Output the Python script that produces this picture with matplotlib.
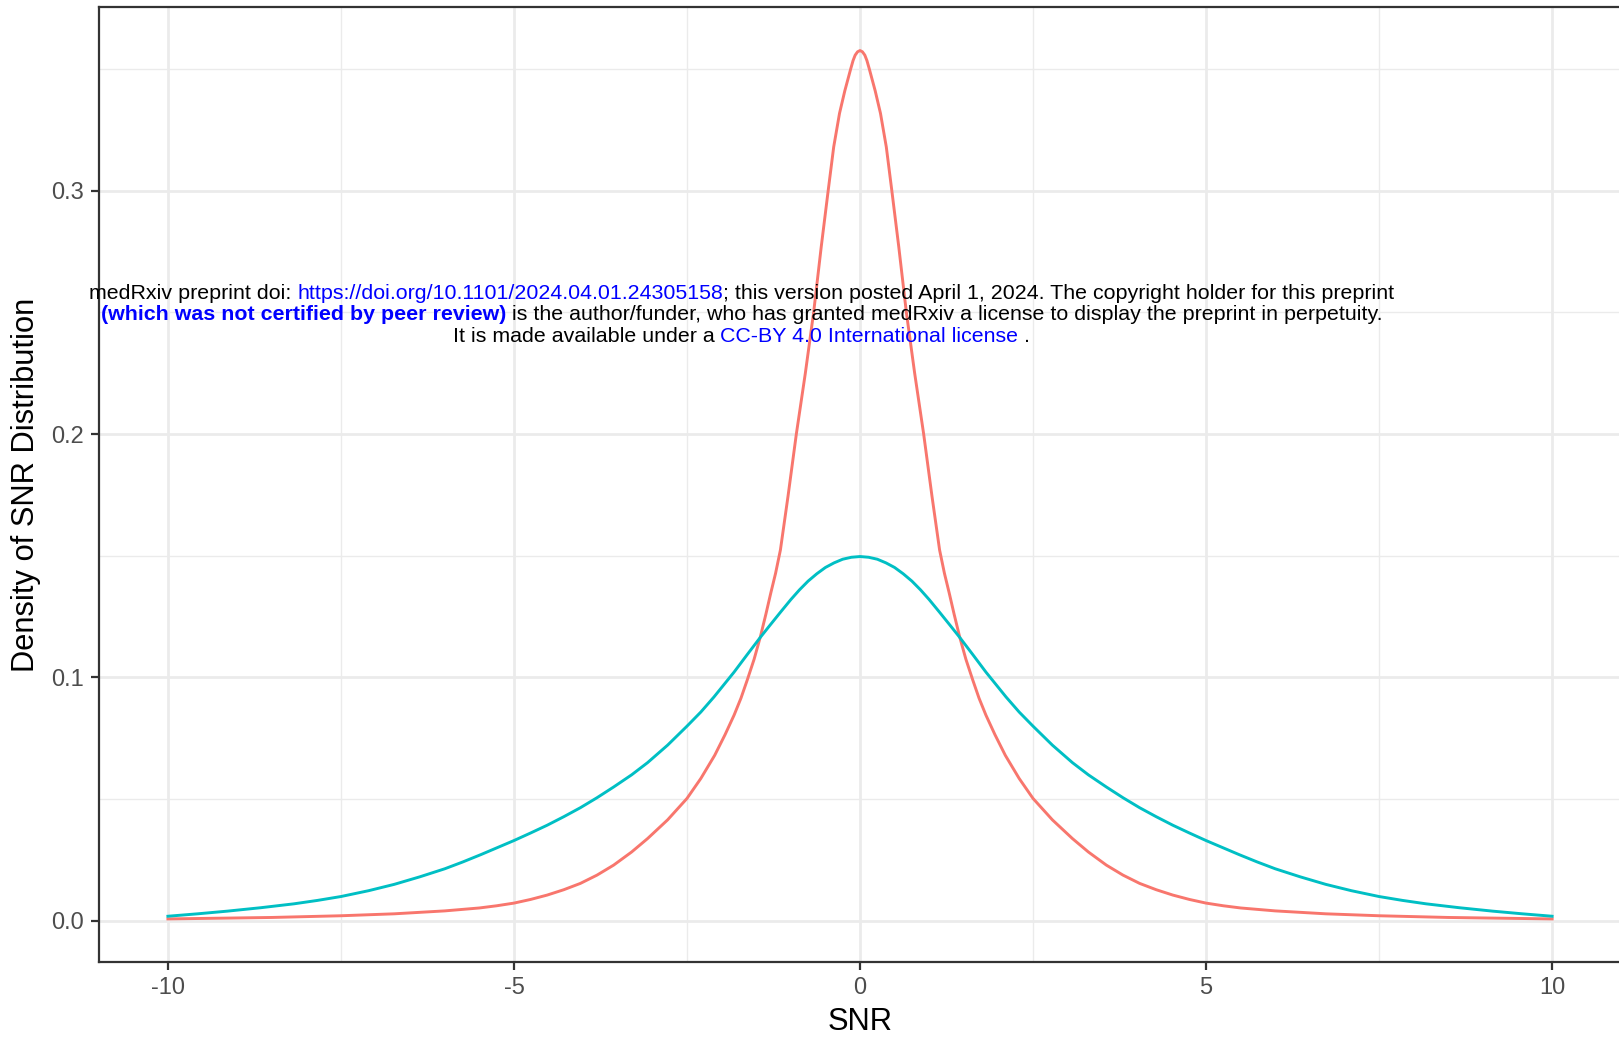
import matplotlib
matplotlib.use("Agg")
import matplotlib.pyplot as plt

# --- data ----------------------------------------------------------------
red_snr = [-10, -8.5, -7.5, -6.73, -6.0, -5.5, -5.25, -5.0, -4.76, -4.52,
           -4.28, -4.04, -3.8, -3.56, -3.3, -3.07, -2.78, -2.5, -2.3, -2.1,
           -1.95, -1.82, -1.72, -1.63, -1.53, -1.44, -1.36, -1.29, -1.22,
           -1.15, -1.04, -0.92, -0.79, -0.67, -0.56, -0.46, -0.38, -0.296,
           -0.22, -0.135, -0.1, -0.07, -0.035, 0.0,
           0.035, 0.07, 0.1, 0.135, 0.22, 0.296, 0.38, 0.46, 0.56, 0.67, 0.79,
           0.92, 1.04, 1.15, 1.22, 1.29, 1.36, 1.44, 1.53, 1.63, 1.72, 1.82,
           1.95, 2.1, 2.3, 2.5, 2.78, 3.07, 3.3, 3.56, 3.8, 4.04, 4.28, 4.52,
           4.76, 5.0, 5.25, 5.5, 6.0, 6.73, 7.5, 8.5, 10]
red_dens = [0.0008, 0.0014, 0.0021, 0.0029, 0.0041, 0.0053, 0.0062, 0.0073,
            0.0088, 0.0106, 0.0128, 0.0154, 0.0188, 0.0229, 0.0283, 0.0338,
            0.0415, 0.0503, 0.0585, 0.0680, 0.0765, 0.0845, 0.0915, 0.0989,
            0.1075, 0.1167, 0.1260, 0.1346, 0.1428, 0.1524, 0.1745, 0.200,
            0.225, 0.250, 0.277, 0.300, 0.318, 0.3318, 0.3410, 0.3500, 0.3535,
            0.3557, 0.3571, 0.3576,
            0.3571, 0.3557, 0.3535, 0.3500, 0.3410, 0.3318, 0.318, 0.300,
            0.277, 0.250, 0.225, 0.200, 0.1745, 0.1524, 0.1428, 0.1346,
            0.1260, 0.1167, 0.1075, 0.0989, 0.0915, 0.0845, 0.0765, 0.0680,
            0.0585, 0.0503, 0.0415, 0.0338, 0.0283, 0.0229, 0.0188, 0.0154,
            0.0128, 0.0106, 0.0088, 0.0073, 0.0062, 0.0053, 0.0041, 0.0029,
            0.0021, 0.0014, 0.0008]

teal_snr = [-10, -9.57, -9.14, -8.66, -8.18, -7.84, -7.5, -7.1, -6.73, -6.36,
            -6.0, -5.74, -5.48, -5.24, -5.0, -4.76, -4.52, -4.28, -4.04, -3.8,
            -3.56, -3.3, -3.07, -2.78, -2.5, -2.3, -2.11, -1.82, -1.63, -1.44,
            -1.3, -1.15, -1.0, -0.875, -0.75, -0.625, -0.5, -0.375, -0.25,
            -0.125, 0.0,
            0.125, 0.25, 0.375, 0.5, 0.625, 0.75, 0.875, 1.0, 1.15, 1.3, 1.44,
            1.63, 1.82, 2.11, 2.3, 2.5, 2.78, 3.07, 3.3, 3.56, 3.8, 4.04, 4.28,
            4.52, 4.76, 5.0, 5.24, 5.48, 5.74, 6.0, 6.36, 6.73, 7.1, 7.5,
            7.84, 8.18, 8.66, 9.14, 9.57, 10]
teal_dens = [0.0019, 0.0029, 0.0040, 0.0054, 0.0070, 0.0084, 0.0100, 0.0124,
             0.0150, 0.0181, 0.0214, 0.0242, 0.0272, 0.0301, 0.0330, 0.0361,
             0.0393, 0.0428, 0.0465, 0.0506, 0.0550, 0.0600, 0.0650, 0.0722,
             0.0800, 0.0858, 0.0920, 0.1022, 0.1094, 0.1165, 0.1215, 0.1268,
             0.1320, 0.1360, 0.1396, 0.1426, 0.1452, 0.1471, 0.1486, 0.1494,
             0.1497,
             0.1494, 0.1486, 0.1471, 0.1452, 0.1426, 0.1396, 0.1360, 0.1320,
             0.1268, 0.1215, 0.1165, 0.1094, 0.1022, 0.0920, 0.0858, 0.0800,
             0.0722, 0.0650, 0.0600, 0.0550, 0.0506, 0.0465, 0.0428, 0.0393,
             0.0361, 0.0330, 0.0301, 0.0272, 0.0242, 0.0214, 0.0181, 0.0150,
             0.0124, 0.0100, 0.0084, 0.0070, 0.0054, 0.0040, 0.0029, 0.0019]

x_major = [-10, -5, 0, 5, 10]
x_minor = [-7.5, -2.5, 2.5, 7.5]
x_labels = ["-10", "-5", "0", "5", "10"]
y_major = [0.0, 0.1, 0.2, 0.3]
y_minor = [0.05, 0.15, 0.25, 0.35]
y_labels = ["0.0", "0.1", "0.2", "0.3"]

# watermark lines: (text, colour, weight)
banner = [
    [("medRxiv preprint doi: ", "black", "normal"),
     ("https://doi.org/10.1101/2024.04.01.24305158", "blue", "normal"),
     ("; this version posted April 1, 2024. The copyright holder for this preprint",
      "black", "normal")],
    [("(which was not certified by peer review)", "blue", "bold"),
     (" is the author/funder, who has granted medRxiv a license to display "
      "the preprint in perpetuity.", "black", "normal")],
    [("It is made available under a ", "black", "normal"),
     ("CC-BY 4.0 International license", "blue", "normal"),
     (" .", "black", "normal")],
]

# --- style ---------------------------------------------------------------
FONT = "Liberation Sans"
RED = "#F8766D"
TEAL = "#00BFC4"
GRID = "#EBEBEB"
BORDER = "#333333"
TICKTXT = "#4D4D4D"
W, H, DPI = 1619, 1039, 100

plt.rcParams["font.family"] = FONT

fig = plt.figure(figsize=(W / DPI, H / DPI), dpi=DPI)
fig.patch.set_facecolor("white")
# panel runs past the right edge of the picture, as in the reference
ax = fig.add_axes([98.7 / W, 1 - 962 / H, 1522.6 / W, 955 / H])

ax.plot(red_snr, red_dens, color=RED, lw=2.1, solid_joinstyle="round", zorder=3)
ax.plot(teal_snr, teal_dens, color=TEAL, lw=2.1, solid_joinstyle="round", zorder=3)

ax.set_xlim(-11, 11)
ax.set_ylim(-0.0169, 0.3755)
ax.set_xticks(x_major)
ax.set_xticklabels(x_labels)
ax.set_xticks(x_minor, minor=True)
ax.set_yticks(y_major)
ax.set_yticklabels(y_labels)
ax.set_yticks(y_minor, minor=True)

ax.grid(which="major", color=GRID, lw=2.0, zorder=0)
ax.grid(which="minor", color=GRID, lw=1.0, zorder=0)
ax.set_axisbelow(True)
for s in ax.spines.values():
    s.set_color(BORDER)
    s.set_linewidth(1.6)
ax.tick_params(which="major", length=5.8, width=1.6, color=BORDER,
               labelcolor=TICKTXT, labelsize=17, pad=5)
ax.tick_params(axis="x", which="major", pad=5.3)
ax.tick_params(which="minor", length=0)

ax.set_xlabel("SNR", fontsize=22.2, color="black")
ax.set_ylabel("Density of SNR Distribution", fontsize=22.2, color="black")
ax.xaxis.set_label_coords(0.5, (962 - 1007.5) / 955)
ax.yaxis.set_label_coords((40.5 - 98.7) / 1522.6, 0.5)

# --- medRxiv banner --------------------------------------------------------
renderer = fig.canvas.get_renderer()


def adv(s, size, weight):
    t = fig.text(0, 0, "|" + s + "|", fontsize=size, fontweight=weight)
    w = t.get_window_extent(renderer).width
    t.set_text("||")
    w -= t.get_window_extent(renderer).width
    t.remove()
    return w


base = 10.0
w1 = sum(adv(s, base, wt) for s, _, wt in banner[0])
size = base * 1303 / w1

cx = 741.5
baselines = [299, 320, 341.5]
for line, yb in zip(banner, baselines):
    widths = [adv(s, size, wt) for s, _, wt in line]
    x = cx - sum(widths) / 2
    for (s, col, wt), w in zip(line, widths):
        fig.text(x / W, 1 - yb / H, s, fontsize=size, fontweight=wt,
                 color=col, ha="left", va="baseline", zorder=5)
        x += w

fig.savefig("out.png", dpi=DPI)
